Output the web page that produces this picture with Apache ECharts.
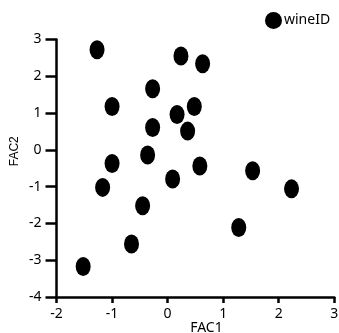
<!DOCTYPE html>
<html>
<head>
<meta charset="utf-8">
<script src="https://cdn.jsdelivr.net/npm/echarts@6/dist/echarts.min.js"></script>
<style>
  html, body { margin: 0; padding: 0; background: #fff; }
  #chart { width: 339px; height: 333px; }
</style>
</head>
<body>
<div id="chart"></div>
<script>
// FAC1 / FAC2 scores per wine
const fac1 = [-1.27, 0.24, 0.63, -0.27, -1.0, 0.48, 0.17, -0.27, 0.36, -0.36,
  -1.0, 0.58, 1.53, -1.17, 0.09, 2.23, -0.45, 1.28, -0.65, -1.52];
const fac2 = [2.72, 2.55, 2.34, 1.66, 1.18, 1.18, 0.96, 0.61, 0.51, -0.14,
  -0.37, -0.44, -0.57, -1.02, -0.79, -1.06, -1.52, -2.11, -2.56, -3.17];
const xTicks = [-2, -1, 0, 1, 2, 3];
const yTicks = [-4, -3, -2, -1, 0, 1, 2, 3];

// ellipse, stretched by ECharts to the symbol box
const ellipse = 'path://M0,10 A10,10 0 1 1 20,10 A10,10 0 1 1 0,10 Z';
const labelFont = 'Noto Sans';

const chart = echarts.init(document.getElementById('chart'), null, { renderer: 'canvas' });

chart.setOption({
  animation: false,
  grid: { left: 56.5, right: 4.7, top: 39.5, bottom: 36, outerBoundsMode: 'none' },
  legend: {
    left: 260,
    top: 7,
    itemWidth: 17,
    itemHeight: 19,
    itemGap: 5,
    icon: ellipse,
    textStyle: { color: '#000', fontFamily: labelFont, fontSize: 14, padding: [0, 0, 0, -3] },
    data: ['wineID']
  },
  xAxis: {
    type: 'value',
    min: xTicks[0],
    max: xTicks[xTicks.length - 1],
    interval: 1,
    name: 'FAC1',
    nameLocation: 'middle',
    nameGap: 24,
    nameMoveOverlap: false,
    nameTextStyle: { color: '#000', fontFamily: labelFont, fontSize: 14, padding: [0, 0, 0, 22] },
    axisLine: { onZero: false, lineStyle: { color: '#000', width: 2.5 } },
    axisTick: { length: 6, lineStyle: { color: '#000', width: 2.5 } },
    axisLabel: { color: '#000', fontFamily: labelFont, fontSize: 14, margin: 10 },
    splitLine: { show: false }
  },
  yAxis: {
    type: 'value',
    min: yTicks[0],
    max: yTicks[yTicks.length - 1],
    interval: 1,
    name: 'FAC2',
    nameLocation: 'middle',
    nameGap: 36,
    nameMoveOverlap: false,
    nameTextStyle: { color: '#000', fontFamily: 'Liberation Sans', fontSize: 12, padding: [0, 0, 0, 34] },
    axisLine: { onZero: false, lineStyle: { color: '#000', width: 2.5 } },
    axisTick: { length: 11, lineStyle: { color: '#000', width: 2.5 } },
    axisLabel: { color: '#000', fontFamily: labelFont, fontSize: 14, margin: 15 },
    splitLine: { show: false }
  },
  series: [{
    name: 'wineID',
    type: 'scatter',
    symbol: ellipse,
    symbolSize: [15, 19],
    itemStyle: { color: '#000', opacity: 1 },
    data: fac1.map((x, i) => [x, fac2[i]])
  }]
});
</script>
</body>
</html>
